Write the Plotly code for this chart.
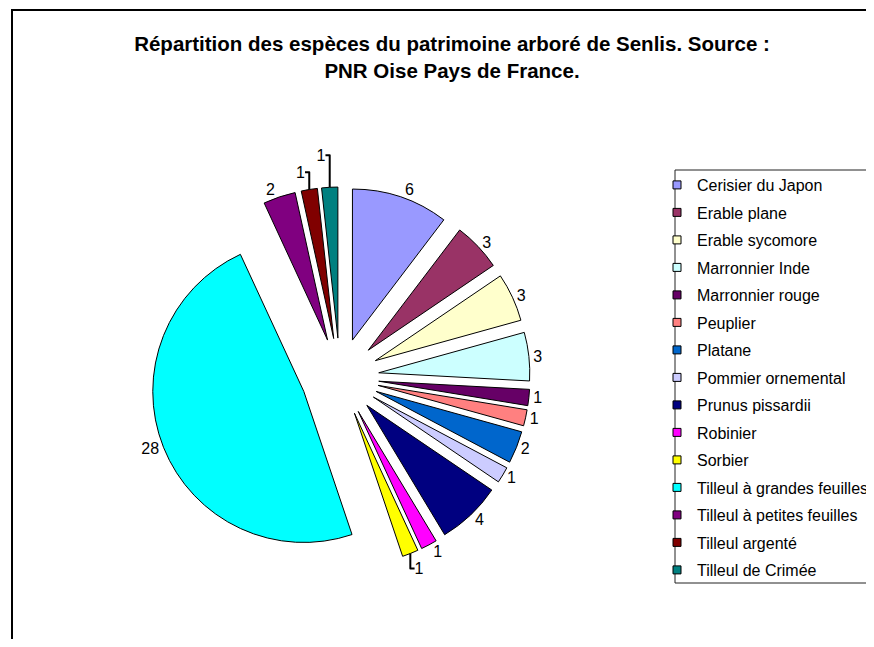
import plotly.graph_objects as go

# the page keeps an 8px body margin, so the figure is sized to fit the window
PAGE_W, PAGE_H = 874, 647
OFF = 8
W, H = PAGE_W - OFF, PAGE_H - 2 * OFF

species = [
    "Cerisier du Japon",
    "Erable plane",
    "Erable sycomore",
    "Marronnier Inde",
    "Marronnier rouge",
    "Peuplier",
    "Platane",
    "Pommier ornemental",
    "Prunus pissardii",
    "Robinier",
    "Sorbier",
    "Tilleul à grandes feuilles",
    "Tilleul à petites feuilles",
    "Tilleul argenté",
    "Tilleul de Crimée",
]
counts = [6, 3, 3, 3, 1, 1, 2, 1, 4, 1, 1, 28, 2, 1, 1]
colors = [
    "#9999FF", "#993366", "#FFFFCC", "#CCFFFF", "#660066",
    "#FF8080", "#0066CC", "#CCCCFF", "#000080", "#FF00FF",
    "#FFFF00", "#00FFFF", "#800080", "#800000", "#008080",
]

FONT = "Arial, Liberation Sans, sans-serif"


def px_x(v):
    # window pixel -> paper fraction
    return (v - OFF) / W


def px_y(v):
    return 1 - (v - OFF) / H


fig = go.Figure()

fig.add_trace(
    go.Pie(
        labels=species,
        values=counts,
        sort=False,
        direction="clockwise",
        rotation=0,
        pull=0.258,
        textinfo="value",
        textposition="outside",
        outsidetextfont=dict(family=FONT, size=16, color="black"),
        marker=dict(colors=colors, line=dict(color="black", width=1)),
        showlegend=False,
        domain=dict(x=[px_x(150), px_x(530)], y=[px_y(567), px_y(187)]),
        hoverinfo="label+value+percent",
    )
)

# legend entries (small square swatches, spaced like the original)
for i, (name, col) in enumerate(zip(species, colors)):
    fig.add_trace(
        go.Scatter(
            x=[None],
            y=[None],
            mode="markers",
            name=name,
            legendgroup=f"g{i}",
            marker=dict(symbol="square", size=8, color=col, line=dict(color="black", width=1)),
        )
    )

fig.update_layout(
    width=W,
    height=H,
    margin=dict(l=0, r=0, t=0, b=0, autoexpand=False),
    paper_bgcolor="white",
    plot_bgcolor="white",
    font=dict(family=FONT, color="black"),
    xaxis=dict(visible=False),
    yaxis=dict(visible=False),
    title=dict(
        text="Répartition des espèces du patrimoine arboré de Senlis. Source :<br>PNR Oise Pays de France.",
        x=px_x(452),
        xanchor="center",
        y=px_y(51),
        yanchor="middle",
        yref="container",
        font=dict(family=FONT, size=20.5, weight="bold", color="black"),
    ),
    legend=dict(
        x=px_x(657),
        xanchor="left",
        y=px_y(168),
        yanchor="top",
        font=dict(family=FONT, size=16, color="black"),
        tracegroupgap=3.7,
        bgcolor="rgba(0,0,0,0)",
        borderwidth=0,
    ),
    shapes=[
        # chart frame
        dict(type="rect", xref="paper", yref="paper",
             x0=px_x(12), x1=1.2, y0=-0.2, y1=px_y(10),
             line=dict(color="black", width=2)),
        # legend frame
        dict(type="rect", xref="paper", yref="paper",
             x0=px_x(675), x1=1.2, y0=px_y(583), y1=px_y(170),
             line=dict(color="#222222", width=1)),
    ],
)

fig.write_html("out.html")
